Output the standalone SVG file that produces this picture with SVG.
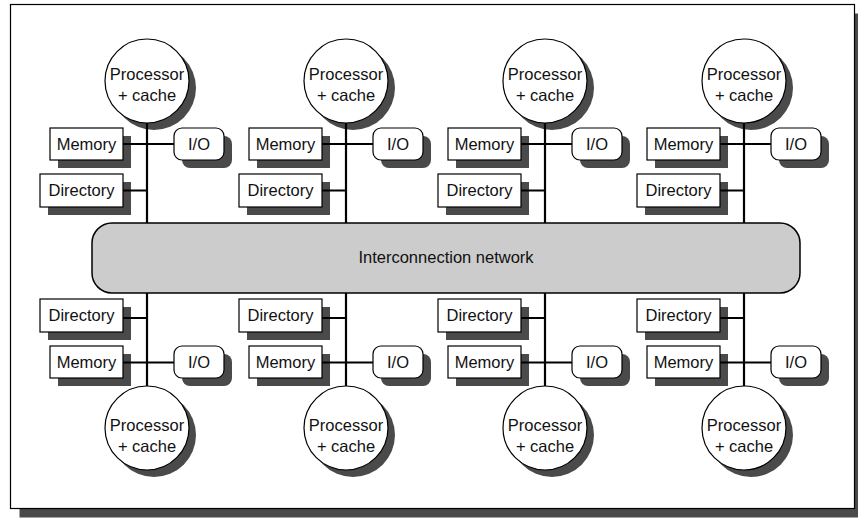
<svg xmlns="http://www.w3.org/2000/svg" width="858" height="518" viewBox="0 0 858 518">
<defs>
<style>
.sh{fill:#4a4a4a;stroke:none}
.box{fill:#fff;stroke:#000;stroke-width:1.2}
.net{fill:#cccccc;stroke:#000;stroke-width:1.5}
.t{font-family:"Liberation Sans",Arial,sans-serif;font-size:16.5px;fill:#111;text-anchor:middle}
.ln{stroke:#000;stroke-width:2.2;fill:none}
</style>
<g id="topUnit">
<circle class="sh" cx="7" cy="88" r="42"/>
<circle class="box" cx="0" cy="81" r="42"/>
<text class="t" x="0" y="80">Processor</text>
<text class="t" x="0" y="101">+ cache</text>
<rect class="sh" x="-89" y="136" width="73" height="32"/>
<rect class="box" x="-97" y="128" width="73" height="32"/>
<text class="t" x="-60.5" y="150">Memory</text>
<rect class="sh" x="35" y="136" width="50" height="32" rx="8"/>
<rect class="box" x="27" y="128" width="50" height="32" rx="8"/>
<text class="t" x="52" y="150">I/O</text>
<rect class="sh" x="-99" y="182" width="83" height="33"/>
<rect class="box" x="-107" y="174" width="83" height="33"/>
<text class="t" x="-65.5" y="196">Directory</text>
</g>
<g id="botUnit">
<rect class="sh" x="-99" y="307" width="83" height="33"/>
<rect class="box" x="-107" y="299" width="83" height="33"/>
<text class="t" x="-65.5" y="321">Directory</text>
<rect class="sh" x="-89" y="354" width="73" height="32"/>
<rect class="box" x="-97" y="346" width="73" height="32"/>
<text class="t" x="-60.5" y="368">Memory</text>
<rect class="sh" x="35" y="354" width="50" height="32" rx="8"/>
<rect class="box" x="27" y="346" width="50" height="32" rx="8"/>
<text class="t" x="52" y="368">I/O</text>
<circle class="sh" cx="7" cy="435" r="42"/>
<circle class="box" cx="0" cy="428" r="42"/>
<text class="t" x="0" y="431">Processor</text>
<text class="t" x="0" y="452">+ cache</text>
</g>
<g id="wires">
<path class="ln" d="M0 123V223M-24 144H27M-24 190.5H0M0 293V386M-24 318H0M-24 362.5H27"/>
</g>
</defs>
<rect width="858" height="518" fill="#fff"/>
<g id="frame">
<rect class="sh" x="19.5" y="13.5" width="844" height="504"/>
<rect class="box" x="10.5" y="4.5" width="844" height="504"/>
</g>
<g id="network">
<rect class="net" x="92" y="223" width="708" height="70" rx="20"/>
<text class="t" x="446" y="263">Interconnection network</text>
</g>
<g id="node-top-1"><use href="#topUnit" x="147"/></g>
<g id="node-top-2"><use href="#topUnit" x="346"/></g>
<g id="node-top-3"><use href="#topUnit" x="545"/></g>
<g id="node-top-4"><use href="#topUnit" x="744"/></g>
<g id="node-bot-1"><use href="#botUnit" x="147"/></g>
<g id="node-bot-2"><use href="#botUnit" x="346"/></g>
<g id="node-bot-3"><use href="#botUnit" x="545"/></g>
<g id="node-bot-4"><use href="#botUnit" x="744"/></g>
<g id="connectors">
<use href="#wires" x="147"/>
<use href="#wires" x="346"/>
<use href="#wires" x="545"/>
<use href="#wires" x="744"/>
</g>
</svg>
